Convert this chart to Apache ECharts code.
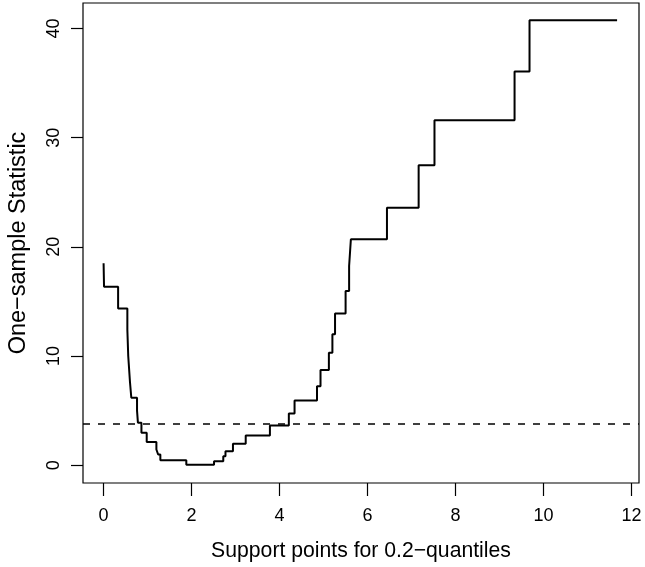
<!DOCTYPE html>
<html>
<head>
<meta charset="utf-8">
<script src="https://cdn.jsdelivr.net/npm/echarts@6/dist/echarts.min.js"></script>
<style>
html,body{margin:0;padding:0;background:#fff;}
#chart{width:645px;height:567px;}
</style>
</head>
<body>
<div id="chart"></div>
<script>
// Step function: x where each level starts, and the level value
const supportX = [0, 0.01, 0.33, 0.54, 0.56, 0.60, 0.63, 0.76, 0.78, 0.86, 0.98, 1.20, 1.24, 1.29, 1.88, 2.51, 2.72, 2.77, 2.94, 3.23, 3.78, 4.21, 4.34, 4.85, 4.93, 5.12, 5.20, 5.26, 5.50, 5.58, 5.62, 6.44, 7.16, 7.52, 9.34, 9.68, 11.67];
const statValues = [18.5, 16.35, 14.35, 12.4, 10.0, 7.6, 6.18, 5.0, 3.9, 2.97, 2.13, 1.44, 0.98, 0.45, 0.05, 0.37, 0.83, 1.28, 1.97, 2.72, 3.64, 4.74, 5.93, 7.24, 8.71, 10.3, 12.0, 13.9, 15.95, 18.24, 20.69, 23.59, 27.47, 31.6, 36.06, 40.76, 40.76];
const criticalValue = 3.84;
const xTicks = [0, 2, 4, 6, 8, 10, 12];
const yTicks = [0, 10, 20, 30, 40];
const xTitle = 'Support points for 0.2\u2212quantiles';
const yTitle = 'One\u2212sample Statistic';

const points = supportX.map((x, i) => [x, statValues[i]]);

const chart = echarts.init(document.getElementById('chart'), null, {renderer: 'canvas'});
const font = 'Liberation Sans, Arial, Helvetica, sans-serif';
chart.setOption({
  animation: false,
  backgroundColor: '#fff',
  grid: {left: 83, right: 6, top: 3, bottom: 84, show: true, borderColor: '#000', borderWidth: 1.2,
         containLabel: false, outerBoundsMode: 'none'},
  xAxis: {
    type: 'value', min: -0.468, max: 12.168,
    axisLine: {show: false, onZero: false},
    splitLine: {show: false},
    axisTick: {show: true, customValues: xTicks, length: 13, lineStyle: {color: '#000', width: 1.2}},
    axisLabel: {customValues: xTicks, color: '#000', fontSize: 18, fontFamily: font, margin: 24},
    name: xTitle, nameLocation: 'middle', nameGap: 58,
    nameTextStyle: {color: '#000', fontSize: 21.2, fontFamily: font}
  },
  yAxis: {
    type: 'value', min: -1.628, max: 42.33,
    axisLine: {show: false, onZero: false},
    splitLine: {show: false},
    axisTick: {show: true, customValues: yTicks, length: 12, lineStyle: {color: '#000', width: 1.2}},
    axisLabel: {customValues: yTicks, color: '#000', fontSize: 18, fontFamily: font, rotate: 90, margin: 20},
    name: yTitle, nameLocation: 'middle', nameGap: 52, nameRotate: 90,
    nameTextStyle: {color: '#000', fontSize: 23.5, fontFamily: font}
  },
  series: [{
    type: 'line',
    data: points,
    step: 'end',
    showSymbol: false,
    lineStyle: {color: '#000', width: 2},
    markLine: {
      silent: true,
      symbol: 'none',
      label: {show: false},
      lineStyle: {color: '#000', width: 1.5, type: [7, 8]},
      data: [{yAxis: criticalValue}]
    }
  }]
});
</script>
</body>
</html>
